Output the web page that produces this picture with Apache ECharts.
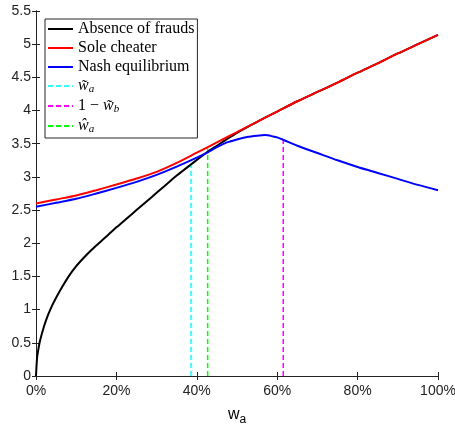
<!DOCTYPE html>
<html>
<head>
<meta charset="utf-8">
<script src="https://cdn.jsdelivr.net/npm/echarts@6/dist/echarts.min.js"></script>
<style>
  html, body { margin: 0; padding: 0; background: #fff; }
  #main { width: 455px; height: 431px; }
</style>
</head>
<body>
<div id="main"></div>
<script>
// x values are w_a in percent
var absenceX = [0, 0.25, 0.5, 1, 2, 3, 4, 5, 6.5, 8, 10, 12, 14, 16, 18, 20, 22.5, 25, 27.5, 30, 32.5, 35, 38.6, 42.7, 45, 47.5, 50, 55, 60, 65, 70, 75, 80, 85, 90, 95, 100];
var absenceY = [0, 0.26, 0.37, 0.53, 0.75, 0.92, 1.06, 1.18, 1.34, 1.49, 1.655, 1.79, 1.91, 2.02, 2.13, 2.24, 2.37, 2.50, 2.63, 2.76, 2.89, 3.02, 3.19, 3.38, 3.47, 3.57, 3.665, 3.83, 3.985, 4.14, 4.28, 4.42, 4.57, 4.71, 4.86, 5.00, 5.14];

var soleX = [0, 5, 10, 15, 20, 25, 30, 35, 40, 45, 50, 55, 60, 65, 70, 75, 80, 85, 90, 95, 100];
var soleY = [2.60, 2.66, 2.72, 2.80, 2.885, 2.975, 3.075, 3.21, 3.365, 3.52, 3.675, 3.83, 3.985, 4.14, 4.28, 4.42, 4.57, 4.71, 4.86, 5.00, 5.14];

var nashX = [0, 5, 10, 15, 20, 25, 30, 35, 40, 42.7, 45, 47.5, 50, 52.5, 55, 57, 59, 60, 61.5, 65, 70, 75, 80, 85, 90, 95, 100];
var nashY = [2.55, 2.61, 2.67, 2.75, 2.835, 2.925, 3.03, 3.155, 3.29, 3.37, 3.45, 3.52, 3.565, 3.60, 3.62, 3.63, 3.61, 3.595, 3.56, 3.47, 3.36, 3.25, 3.15, 3.06, 2.97, 2.88, 2.80];

// thresholds: [x, top of the dashed line]
var tildeWa = [38.6, 3.19];
var oneMinusWb = [61.5, 3.56];
var hatWa = [42.7, 3.43];

var seriesNames = ['Absence of frauds', 'Sole cheater', 'Nash equilibrium', 'w\u0303a', '1 \u2212 w\u0303b', '\u0175a'];
var legendRich = {
    'w\u0303a': '{i|w\u0303}{s|a}',
    '1 \u2212 w\u0303b': '{t|1 \u2212 }{i|w\u0303}{s|b}',
    '\u0175a': '{i|\u0175}{s|a}'
};

function pairs(xs, ys) {
    var out = [];
    for (var i = 0; i < xs.length; i++) {
        out.push([xs[i], ys[i]]);
    }
    return out;
}

function vline(p) {
    return [[p[0], 0], [p[0], p[1]]];
}

var axisColor = '#222';
var sans = '"Liberation Sans", Arial, Helvetica, sans-serif';
var serif = '"Liberation Serif", "Times New Roman", serif';

var myChart = echarts.init(document.getElementById('main'));

myChart.setOption({
    animation: false,
    backgroundColor: '#fff',
    grid: { left: 36, right: 17, top: 11, bottom: 55, outerBoundsMode: 'none' },
    legend: {
        orient: 'vertical',
        left: 45,
        top: 19,
        padding: [2, 3, 3, 2],
        itemGap: 3,
        itemWidth: 25,
        itemHeight: 14,
        backgroundColor: '#fff',
        borderColor: '#262626',
        borderWidth: 1,
        borderRadius: 0,
        itemStyle: { opacity: 0, color: 'rgba(0,0,0,0)', borderWidth: 0 },
        data: seriesNames,
        formatter: function (name) {
            return legendRich[name] || '{t|' + name + '}';
        },
        textStyle: {
            color: '#000',
            fontFamily: serif,
            fontSize: 16,
            rich: {
                t: { fontFamily: serif, fontSize: 16, lineHeight: 18, color: '#000' },
                i: { fontFamily: serif, fontSize: 16, fontStyle: 'italic', lineHeight: 18, color: '#000' },
                s: { fontFamily: serif, fontSize: 11, fontStyle: 'italic', lineHeight: 8, verticalAlign: 'bottom', color: '#000' }
            }
        }
    },
    xAxis: [{
        type: 'value',
        min: 0,
        max: 100,
        interval: 20,
        name: '{w|w}{a|a}',
        nameLocation: 'middle',
        nameGap: 28,
        nameTextStyle: {
            rich: {
                w: { fontFamily: sans, fontSize: 16, lineHeight: 22, color: '#000' },
                a: { fontFamily: sans, fontSize: 12, lineHeight: 8, verticalAlign: 'bottom', color: '#000' }
            }
        },
        axisLine: { lineStyle: { color: axisColor, width: 1 } },
        axisTick: { inside: true, length: 4, lineStyle: { color: axisColor } },
        axisLabel: {
            formatter: '{value}%',
            color: axisColor,
            fontFamily: sans,
            fontSize: 14,
            margin: 8,
            showMinLabel: true,
            showMaxLabel: true
        },
        splitLine: { show: false }
    }, {
        type: 'value',
        position: 'top',
        min: 0,
        max: 100,
        interval: 20,
        axisLine: { lineStyle: { color: axisColor, width: 1 } },
        axisTick: { inside: true, length: 4, lineStyle: { color: axisColor } },
        axisLabel: { show: false },
        splitLine: { show: false }
    }],
    yAxis: [{
        type: 'value',
        min: 0,
        max: 5.5,
        interval: 0.5,
        axisLine: { show: true, lineStyle: { color: axisColor, width: 1 } },
        axisTick: { show: true, inside: true, length: 4, lineStyle: { color: axisColor } },
        axisLabel: {
            color: axisColor,
            fontFamily: sans,
            fontSize: 14,
            margin: 5,
            showMinLabel: true,
            showMaxLabel: true
        },
        splitLine: { show: false }
    }, {
        type: 'value',
        position: 'right',
        min: 0,
        max: 5.5,
        interval: 0.5,
        axisLine: { show: true, lineStyle: { color: axisColor, width: 1 } },
        axisTick: { show: true, inside: true, length: 4, lineStyle: { color: axisColor } },
        axisLabel: { show: false },
        splitLine: { show: false }
    }],
    series: [{
        name: seriesNames[0],
        type: 'line',
        data: pairs(absenceX, absenceY),
        smooth: 0.25,
        symbol: 'none',
        lineStyle: { color: '#000', width: 2 },
        itemStyle: { color: '#000' }
    }, {
        name: seriesNames[1],
        type: 'line',
        data: pairs(soleX, soleY),
        smooth: 0.25,
        symbol: 'none',
        lineStyle: { color: '#ff0000', width: 2 },
        itemStyle: { color: '#ff0000' }
    }, {
        name: seriesNames[2],
        type: 'line',
        data: pairs(nashX, nashY),
        smooth: 0.25,
        symbol: 'none',
        lineStyle: { color: '#0000ff', width: 2 },
        itemStyle: { color: '#0000ff' }
    }, {
        name: seriesNames[3],
        type: 'line',
        data: vline(tildeWa),
        symbol: 'none',
        z: 1,
        lineStyle: { color: '#33ffff', width: 2, type: [5, 3] },
        itemStyle: { color: '#33ffff' }
    }, {
        name: seriesNames[4],
        type: 'line',
        data: vline(oneMinusWb),
        symbol: 'none',
        z: 1,
        lineStyle: { color: '#ff00ff', width: 1.5, type: [5, 3] },
        itemStyle: { color: '#ff00ff' }
    }, {
        name: seriesNames[5],
        type: 'line',
        data: vline(hatWa),
        symbol: 'none',
        z: 1,
        lineStyle: { color: '#00ff00', width: 1.5, type: [5, 3] },
        itemStyle: { color: '#00ff00' }
    }]
});
window.onresize = myChart.resize;
</script>
</body>
</html>
